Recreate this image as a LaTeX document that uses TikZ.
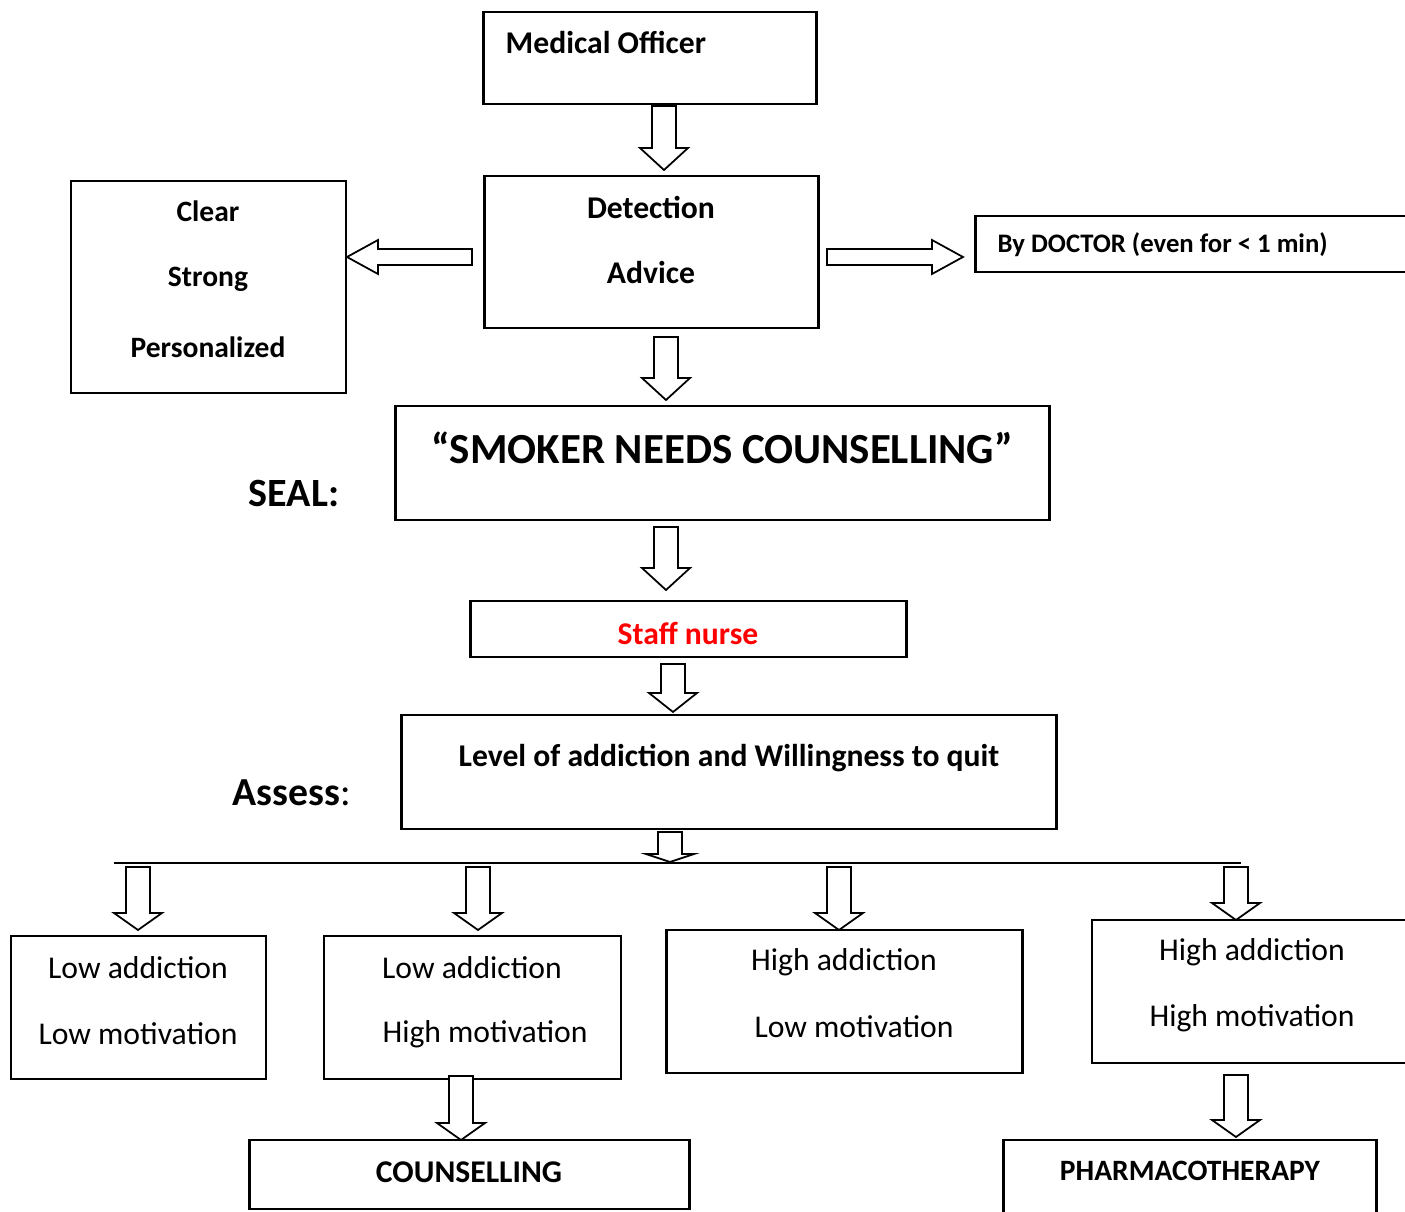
\documentclass[tikz,border=0pt]{standalone}
\usepackage{fontspec}
\setmainfont{Carlito}
\usetikzlibrary{calc}

\newcommand{\hollowdown}[4][22]{% [head], x, tail, tip
  \draw[blockarrow] (#2-12,#3) -- (#2+12,#3) -- (#2+12,#4-#1) -- (#2+24,#4-#1)
    -- (#2,#4) -- (#2-24,#4-#1) -- (#2-12,#4-#1) -- cycle;}
\newcommand{\hollowside}[4]{% y, tail, tip, sign
  \draw[blockarrow] (#2,#1-8) -- (#3-#4*31,#1-8) -- (#3-#4*31,#1-17)
    -- (#3,#1) -- (#3-#4*31,#1+17) -- (#3-#4*31,#1+8) -- (#2,#1+8) -- cycle;}

\tikzset{
  box/.style={draw, line width=0.8pt, inner sep=0pt},
  txt/.style={font=\fontsize{9}{11}\selectfont, inner sep=0pt},
  btxt/.style={font=\bfseries\fontsize{9}{11}\selectfont, inner sep=0pt},
  bigtxt/.style={font=\bfseries\fontsize{12.2}{14}\selectfont, inner sep=0pt},
  blockarrow/.style={draw, line width=0.5pt, fill=white},
}

\begin{document}
\begin{tikzpicture}[x=0.01cm,y=-0.01cm]

\clip (0,0) rectangle (1405,1212);
\useasboundingbox (0,0) rectangle (1405,1212);

% boxes
\node[box, minimum width=3.32cm, minimum height=0.92cm]  (mo)   at (650,58) {};
\node[box, minimum width=3.33cm, minimum height=1.52cm]  (det)  at (651.5,252) {};
\node[box, minimum width=2.75cm, minimum height=2.12cm]  (csp)  at (208.5,287) {};
\node[box, minimum width=4.40cm, minimum height=0.56cm]  (doc)  at (1196,244) {};
\node[box, minimum width=6.53cm, minimum height=1.14cm]  (seal) at (722.5,463) {};
\node[box, minimum width=4.35cm, minimum height=0.56cm]  (nurse) at (688.5,629) {};
\node[box, minimum width=6.54cm, minimum height=1.14cm]  (lvl)  at (729,772) {};
\node[box, minimum width=2.55cm, minimum height=1.43cm]  (ll)   at (138.5,1007.5) {};
\node[box, minimum width=2.97cm, minimum height=1.43cm]  (lh)   at (472.5,1007.5) {};
\node[box, minimum width=3.55cm, minimum height=1.43cm]  (hl)   at (844.5,1001.5) {};
\node[box, minimum width=3.30cm, minimum height=1.43cm]  (hh)   at (1257,991.5) {};
\node[box, minimum width=4.39cm, minimum height=0.69cm]  (couns) at (469.5,1174.5) {};
\node[box, minimum width=3.72cm, minimum height=0.90cm]  (pharm) at (1190,1185) {};

% texts
\node[btxt, anchor=west] (mo-t) at (505,42) {Medical Officer};
\node[btxt] (det-t1) at (651,207) {Detection};
\node[btxt] (det-t2) at (651,273) {Advice};
\node[btxt, font=\bfseries\fontsize{8.4}{10}\selectfont] (csp-t1) at (208,211) {Clear};
\node[btxt, font=\bfseries\fontsize{8.4}{10}\selectfont] (csp-t2) at (208,279) {Strong};
\node[btxt, font=\bfseries\fontsize{8.4}{10}\selectfont] (csp-t3) at (208,347) {Personalized};
\node[btxt, font=\bfseries\fontsize{7.6}{9}\selectfont, anchor=west] (doc-t) at (997,245)
  {By DOCTOR (even for < 1 min)};
\node[bigtxt] (seal-t) at (722,448) {“SMOKER NEEDS COUNSELLING”};
\node[bigtxt, font=\bfseries\fontsize{11.4}{13}\selectfont, anchor=west] (seal-l) at (248,493) {SEAL:};
\node[btxt, text=red] (nurse-t) at (688,633) {Staff nurse};
\node[btxt] (lvl-t) at (729,758) {Level of addiction and Willingness to quit};
\node[anchor=west, inner sep=0pt] (lvl-l) at (232,793)
  {\fontsize{11.3}{13}\selectfont\textbf{Assess}:};
\node[txt] (ll-t1) at (138,968) {Low addiction};
\node[txt] (ll-t2) at (138,1034) {Low motivation};
\node[txt] (lh-t1) at (472,968) {Low addiction};
\node[txt] (lh-t2) at (485,1034) {High motivation};
\node[txt] (hl-t1) at (844,962) {High addiction};
\node[txt] (hl-t2) at (854,1027) {Low motivation};
\node[txt] (hh-t1) at (1252,952) {High addiction};
\node[txt] (hh-t2) at (1252,1018) {High motivation};
\node[btxt] (couns-t) at (469,1172) {COUNSELLING};
\node[btxt, font=\bfseries\fontsize{8.4}{10}\selectfont] (pharm-t) at (1190,1171) {PHARMACOTHERAPY};

% branch line
\coordinate (split-l) at (114,863);
\coordinate (split-r) at (1241,863);
\draw[line width=0.6pt] (split-l) -- (split-r);

% block arrows
\hollowdown{664}{106}{170}
\hollowside{257}{472}{347}{-1}
\hollowside{257}{827}{963}{1}
\hollowdown{666}{337}{400}
\hollowdown{666}{527}{590}
\hollowdown[19]{673}{664}{712}
\hollowdown[8]{670}{832}{862}
\hollowdown[17]{138}{867}{930}
\hollowdown[17]{478}{867}{930}
\hollowdown[17]{839}{867}{930}
\hollowdown[17]{1236}{867}{920}
\hollowdown[17]{461}{1076}{1140}
\hollowdown[17]{1236}{1075}{1137}

\end{tikzpicture}
\end{document}
